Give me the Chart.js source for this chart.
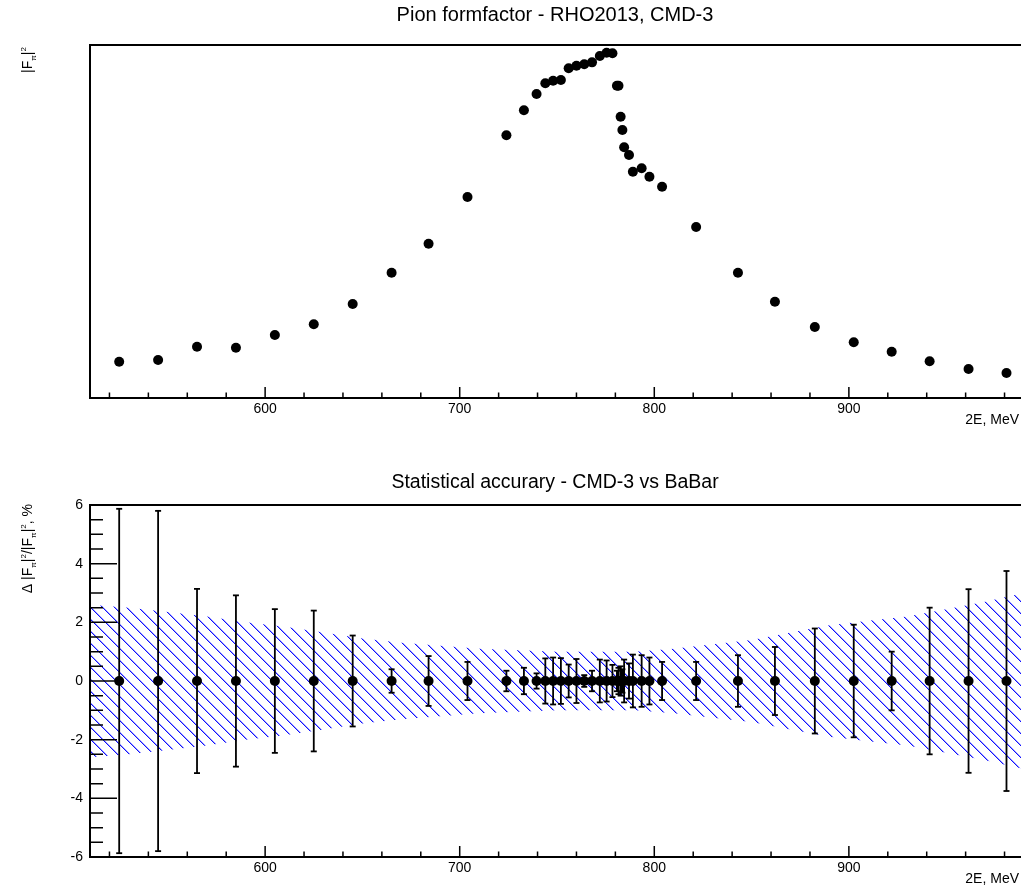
<!DOCTYPE html>
<html>
<head>
<meta charset="utf-8">
<script src="https://cdn.jsdelivr.net/npm/chart.js@4.4.1/dist/chart.umd.min.js"></script>
<style>
  html, body { margin: 0; padding: 0; background: #fff; overflow: hidden; }
  #wrap { position: relative; width: 1021px; height: 889px; overflow: hidden; }
  canvas { position: absolute; left: 0; display: block; }
  #ff { top: 0; }
  #acc { top: 445px; }
</style>
</head>
<body>
<div id="wrap">
  <canvas id="ff" width="1024" height="445"></canvas>
  <canvas id="acc" width="1024" height="444"></canvas>
</div>
<script>
// beam energy points, 2E in MeV
const energy = [525, 545, 565, 585, 605, 625, 645, 665, 684, 704,
  724, 733, 739.5, 744, 748, 752, 756, 760, 764, 768,
  772, 775.5, 778.5, 780.8, 781.6, 782.7, 783.6, 784.5, 787, 789,
  793.5, 797.5, 804, 821.5, 843, 862, 882.5, 902.5, 922, 941.5,
  961.5, 981];
// |F_pi|^2 (arbitrary units, axis has no labels)
const formFactor = [4.73, 4.95, 6.68, 6.55, 8.21, 9.60, 12.25, 16.33, 20.11, 26.19,
  34.23, 37.49, 39.61, 41.01, 41.35, 41.44, 42.96, 43.30, 43.48, 43.74,
  44.57, 45.0, 44.92, 40.70, 40.70, 36.66, 34.92, 32.67, 31.67, 29.49,
  29.93, 28.84, 27.53, 22.28, 16.33, 12.55, 9.25, 7.26, 6.03, 4.78,
  3.78, 3.26];
// CMD-3 statistical error, %
const statErr = [5.87, 5.8, 3.14, 2.92, 2.45, 2.4, 1.55, 0.4, 0.85, 0.65,
  0.35, 0.45, 0.26, 0.77, 0.8, 0.78, 0.56, 0.75, 0.2, 0.35,
  0.73, 0.7, 0.55, 0.35, 0.45, 0.5, 0.4, 0.73, 0.6, 0.9,
  0.88, 0.8, 0.65, 0.65, 0.88, 1.16, 1.79, 1.92, 1.0, 2.5,
  3.13, 3.75];
// BaBar band (half width, %)
const babarEnergy = [510, 530, 550, 570, 590, 610, 630, 650, 670, 690, 710, 730, 750,
  770, 790, 810, 830, 850, 870, 890, 910, 930, 950, 970, 990];
const babarErr = [2.6, 2.5, 2.35, 2.2, 2.0, 1.85, 1.65, 1.45, 1.3, 1.2, 1.1, 1.05, 1.0,
  1.0, 1.0, 1.1, 1.25, 1.4, 1.65, 1.9, 2.05, 2.2, 2.45, 2.7, 3.0];

const xTicks = [520, 540, 560, 580, 600, 620, 640, 660, 680, 700, 720, 740, 760,
  780, 800, 820, 840, 860, 880, 900, 920, 940, 960, 980];
const xLabels = [600, 700, 800, 900];
const yTicks = [-6, -5.5, -5, -4.5, -4, -3.5, -3, -2.5, -2, -1.5, -1, -0.5, 0,
  0.5, 1, 1.5, 2, 2.5, 3, 3.5, 4, 4.5, 5, 5.5, 6];
const yLabels = [-6, -4, -2, 0, 2, 4, 6];

const FONT = '"Liberation Sans", Arial, Helvetica, sans-serif';
Chart.defaults.color = '#000';
Chart.defaults.font.family = FONT;
Chart.defaults.font.size = 14;

function hatch() {
  const c = document.createElement('canvas');
  c.width = 12; c.height = 12;
  const g = c.getContext('2d');
  for (let i = 0; i < 12; i++) {
    g.fillStyle = '#1010ff';
    g.fillRect(i, i, 1, 1);
    g.fillStyle = 'rgba(40, 40, 255, 0.45)';
    g.fillRect((i + 1) % 12, i, 1, 1);
  }
  return g.createPattern(c, 'repeat');
}

// rotated title with sub/superscripts, ending at (x, yEnd)
function richY(ctx, parts, x, yEnd, size) {
  ctx.save();
  ctx.translate(x, yEnd);
  ctx.rotate(-Math.PI / 2);
  ctx.textBaseline = 'alphabetic';
  ctx.textAlign = 'left';
  const small = size * 0.58;
  let total = 0;
  for (const [t, k] of parts) {
    ctx.font = (k === 'n' ? size : small) + 'px ' + FONT;
    total += ctx.measureText(t).width;
  }
  let u = -total;
  for (const [t, k] of parts) {
    ctx.font = (k === 'n' ? size : small) + 'px ' + FONT;
    const v = k === 'sub' ? size * 0.3 : k === 'sup' ? -size * 0.45 : 0;
    ctx.fillText(t, u, v);
    u += ctx.measureText(t).width;
  }
  ctx.restore();
}

const frameTicks = {
  id: 'frameTicks',
  afterDatasetsDraw(chart, args, o) {
    const { ctx, chartArea: a, scales } = chart;
    ctx.save();
    ctx.strokeStyle = '#000';
    ctx.fillStyle = '#000';
    ctx.lineWidth = 1.5;
    ctx.beginPath();
    scales.x.ticks.forEach(t => {
      const px = scales.x.getPixelForValue(t.value);
      const len = xLabels.includes(t.value) ? 11 : 5.5;
      ctx.moveTo(px, a.bottom);
      ctx.lineTo(px, a.bottom - len);
    });
    if (o.yTicks) {
      scales.y.ticks.forEach(t => {
        const py = scales.y.getPixelForValue(t.value);
        const len = yLabels.includes(t.value) ? 27 : 13;
        ctx.moveTo(a.left, py);
        ctx.lineTo(a.left + len, py);
      });
    }
    ctx.stroke();
    ctx.lineWidth = 2;
    ctx.strokeRect(a.left, a.top, a.right - a.left, a.bottom - a.top);

    ctx.font = o.titleSize + 'px ' + FONT;
    ctx.textAlign = 'center';
    ctx.textBaseline = 'middle';
    ctx.fillText(o.title, (a.left + a.right) / 2 - 2, o.titleY);

    ctx.font = '14px ' + FONT;
    ctx.textAlign = 'right';
    ctx.fillText('2E, MeV', 1019, a.bottom + 22);

    richY(ctx, o.yTitle, 32, o.yTitleEnd, 14);
    ctx.restore();
  }
};

function xScale(h) {
  return {
    type: 'linear', min: 510, max: 990,
    grid: { display: false, drawTicks: false }, border: { display: false },
    afterBuildTicks: s => { s.ticks = xTicks.map(v => ({ value: v })); },
    afterFit: s => { s.height = h; s.paddingLeft = 0; s.paddingRight = 0; },
    ticks: {
      autoSkip: false, maxRotation: 0, padding: 3,
      callback: v => xLabels.includes(v) ? String(v) : ''
    }
  };
}

const common = {
  responsive: false,
  animation: false,
  events: [],
  devicePixelRatio: 1,
};

new Chart(document.getElementById('ff'), {
  type: 'line',
  data: {
    datasets: [{
      data: energy.map((e, i) => ({ x: e, y: formFactor[i] })),
      showLine: false,
      pointRadius: 5,
      pointBackgroundColor: '#000',
      pointBorderWidth: 0
    }]
  },
  options: {
    ...common,
    layout: { autoPadding: false, padding: { top: 45, left: 0, right: 0, bottom: 0 } },
    plugins: {
      legend: { display: false },
      tooltip: { enabled: false },
      frameTicks: {
        title: 'Pion formfactor - RHO2013, CMD-3', titleY: 15, titleSize: 20,
        yTitle: [['|F', 'n'], ['π', 'sub'], ['|', 'n'], ['2', 'sup']],
        yTitleEnd: 47, yTicks: false
      }
    },
    scales: {
      x: xScale(47),
      y: {
        min: 0, max: 46,
        grid: { display: false, drawTicks: false }, border: { display: false },
        ticks: { display: false },
        afterFit: s => { s.width = 90; }
      }
    }
  },
  plugins: [frameTicks]
});

const errLine = [];
energy.forEach((e, i) => {
  errLine.push({ x: e, y: -statErr[i] }, { x: e, y: statErr[i] }, { x: e, y: null });
});

new Chart(document.getElementById('acc'), {
  type: 'line',
  data: {
    datasets: [{
      data: babarEnergy.map((e, i) => ({ x: e, y: babarErr[i] })),
      fill: '+1',
      backgroundColor: hatch(),
      borderColor: 'transparent',
      pointRadius: 0,
      order: 3
    }, {
      data: babarEnergy.map((e, i) => ({ x: e, y: -babarErr[i] })),
      fill: false,
      borderColor: 'transparent',
      pointRadius: 0,
      order: 3
    }, {
      data: errLine,
      borderColor: '#000',
      borderWidth: 1.8,
      spanGaps: false,
      pointStyle: 'line',
      pointRadius: 3,
      pointBorderWidth: 1.8,
      pointBorderColor: '#000',
      order: 2
    }, {
      data: energy.map(e => ({ x: e, y: 0 })),
      showLine: false,
      pointRadius: 5,
      pointBackgroundColor: '#000',
      pointBorderWidth: 0,
      order: 1
    }]
  },
  options: {
    ...common,
    layout: { autoPadding: false, padding: { top: 60, left: 0, right: 0, bottom: 0 } },
    plugins: {
      legend: { display: false },
      tooltip: { enabled: false },
      frameTicks: {
        title: 'Statistical accurary - CMD-3 vs BaBar', titleY: 38, titleSize: 19.5,
        yTitle: [['Δ |F', 'n'], ['π', 'sub'], ['|', 'n'], ['2', 'sup'], ['/|F', 'n'],
          ['π', 'sub'], ['|', 'n'], ['2', 'sup'], [', %', 'n']],
        yTitleEnd: 59, yTicks: true
      }
    },
    scales: {
      x: xScale(32),
      y: {
        min: -6, max: 6,
        grid: { display: false, drawTicks: false }, border: { display: false },
        afterBuildTicks: s => { s.ticks = yTicks.map(v => ({ value: v })); },
        afterFit: s => { s.width = 90; },
        ticks: {
          autoSkip: false, padding: 7,
          callback: v => yLabels.includes(v) ? String(v) : ''
        }
      }
    }
  },
  plugins: [frameTicks]
});
</script>
</body>
</html>
